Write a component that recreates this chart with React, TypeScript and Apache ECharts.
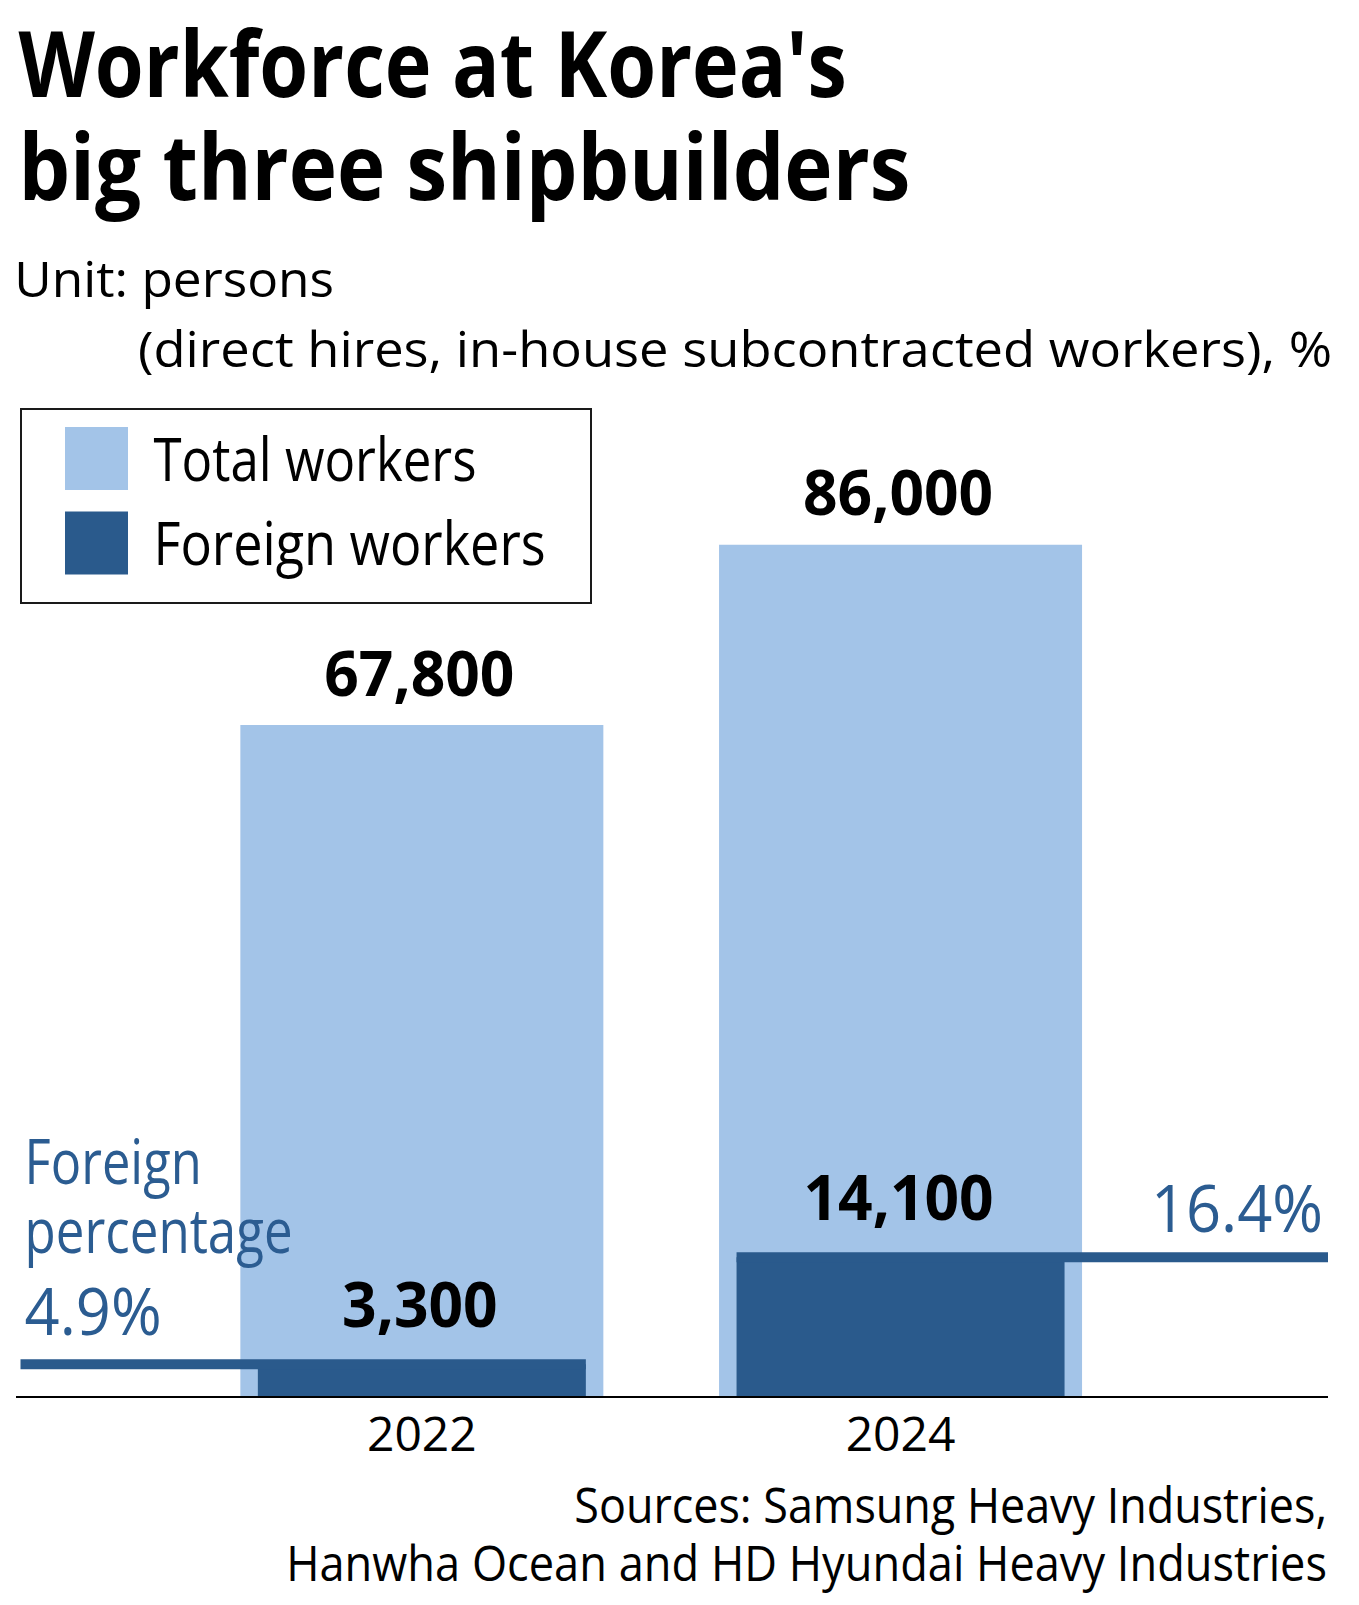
import React, { useEffect, useRef } from "react";
import * as echarts from "echarts";

// ---------- data ----------
const categories = ["2022", "2024"];
const totalWorkers = [67800, 86000];
const foreignWorkers = [3300, 14100];
const foreignPct = [4.9, 16.4];
const seriesNames = ["Total workers", "Foreign workers"];
const titleLines = ["Workforce at Korea's", "big three shipbuilders"];
const unitLines = ["Unit: persons", "(direct hires, in-house subcontracted workers), %"];
const annotationLines = ["Foreign", "percentage"];
const sourceLines = [
  "Sources: Samsung Heavy Industries,",
  "Hanwha Ocean and HD Hyundai Heavy Industries",
];

// ---------- style ----------
const FONT = '"Open Sans", "Noto Sans", sans-serif';
const LIGHT = "#A3C4E8";
const DARK = "#2A5A8C";
const PCT = "#2B5C91";
const CENTRAL = 0.388; // Open Sans: central baseline above alphabetic (em)
const TOTAL_W = 363;
const FOREIGN_W = 328;
const W = 1359;
const H = 1605;

let measureCtx: CanvasRenderingContext2D | null = null;
function measure(text: string, weight: string, size: number): number {
  if (!measureCtx) measureCtx = document.createElement("canvas").getContext("2d");
  if (!measureCtx) return 1;
  measureCtx.font = `${weight} ${size}px ${FONT}`;
  return measureCtx.measureText(text).width || 1;
}

type TxtOpts = {
  x: number;
  baseline: number;
  size: number;
  weight?: string;
  width?: number;
  scale?: number;
  align?: string;
  fill?: string;
};
function txt(text: string, o: TxtOpts): any {
  const weight = o.weight || "normal";
  const align = o.align || "left";
  const sx = o.width ? o.width / measure(text, weight, o.size) : o.scale || 1;
  return {
    type: "text",
    x: o.x,
    y: o.baseline - CENTRAL * o.size,
    scaleX: sx,
    z: 50,
    silent: true,
    style: {
      text,
      fill: o.fill || "#000",
      fontSize: o.size,
      fontFamily: FONT,
      fontWeight: weight,
      align,
      textAlign: align,
      verticalAlign: "middle",
      textVerticalAlign: "middle",
    },
  };
}

const fmt = (v: number) => v.toLocaleString("en-US");

export default function App() {
  const ref = useRef<HTMLDivElement>(null);

  useEffect(() => {
    if (!ref.current) return;
    const chart = echarts.init(ref.current, null, { renderer: "svg" });

    const renderItem = (params: any, api: any) => {
      const i = api.value(0);
      const total = api.value(1);
      const foreign = api.value(2);
      const pct = api.value(3);
      const pTotal = api.coord([i, total]);
      const pForeign = api.coord([i, foreign]);
      const cx = pTotal[0];
      const yTotal = pTotal[1];
      const yFor = pForeign[1];
      const half = FOREIGN_W / 2;
      const leftSide = i === 0;
      const x0 = leftSide ? 20.5 : cx - half;
      const x1 = leftSide ? cx + half : 1328;
      return {
        type: "group",
        children: [
          {
            type: "rect",
            shape: { x: x0, y: yFor - 5, width: x1 - x0, height: 10 },
            style: { fill: DARK },
          },
          txt(fmt(total), {
            x: cx - 2.5,
            baseline: yTotal - 29.6,
            size: 63,
            weight: "bold",
            scale: 0.96,
            align: "center",
          }),
          txt(fmt(foreign), {
            x: cx - 2,
            baseline: yFor - 37,
            size: 63,
            weight: "bold",
            scale: 0.96,
            align: "center",
          }),
          txt(`${pct}%`, {
            x: leftSide ? 24.6 : 1323,
            baseline: leftSide ? yFor - 29 : yFor - 25,
            size: 66,
            scale: 0.93,
            align: leftSide ? "left" : "right",
            fill: PCT,
          }),
        ],
      };
    };

    const graphic: any[] = [
      txt(titleLines[0], { x: 18.4, baseline: 97.2, size: 91, weight: "bold", width: 829 }),
      txt(titleLines[1], { x: 18.4, baseline: 199.6, size: 91, weight: "bold", width: 892 }),
      txt(unitLines[0], { x: 14.3, baseline: 296.8, size: 50, width: 320 }),
      txt(unitLines[1], { x: 138, baseline: 366.4, size: 50, width: 1194.5 }),
      // legend
      {
        type: "rect",
        silent: true,
        z: 40,
        shape: { x: 21, y: 409, width: 570, height: 194 },
        style: { fill: "#fff", stroke: "#1a1a1a", lineWidth: 2 },
      },
      {
        type: "rect",
        silent: true,
        z: 45,
        shape: { x: 65, y: 427, width: 63, height: 63 },
        style: { fill: LIGHT },
      },
      {
        type: "rect",
        silent: true,
        z: 45,
        shape: { x: 65, y: 511.5, width: 63, height: 63 },
        style: { fill: DARK },
      },
      txt(seriesNames[0], { x: 153.5, baseline: 481, size: 60, width: 323 }),
      txt(seriesNames[1], { x: 153.5, baseline: 565, size: 60, width: 392 }),
      // annotation
      txt(annotationLines[0], { x: 24.6, baseline: 1184, size: 63, width: 177, fill: PCT }),
      txt(annotationLines[1], { x: 24.6, baseline: 1253.7, size: 63, width: 268, fill: PCT }),
      // baseline
      {
        type: "line",
        silent: true,
        z: 50,
        shape: { x1: 16, y1: 1397, x2: 1328, y2: 1397 },
        style: { stroke: "#000", lineWidth: 2 },
      },
      // sources
      txt(sourceLines[0], { x: 1327, baseline: 1523, size: 50, width: 753, align: "right" }),
      txt(sourceLines[1], { x: 1327, baseline: 1581, size: 50, width: 1040.5, align: "right" }),
    ];

    const option: any = {
      animation: false,
      backgroundColor: "#fff",
      grid: { left: 182.5, right: 219.1, top: 406, bottom: 208 },
      xAxis: [
        {
          type: "category",
          data: categories,
          axisLine: { show: false },
          axisTick: { show: false },
          splitLine: { show: false },
          axisLabel: {
            fontSize: 48,
            fontFamily: FONT,
            color: "#000",
            margin: 11,
          },
        },
        { type: "category", data: categories, show: false },
      ],
      yAxis: { type: "value", min: 0, max: 100000, show: false },
      series: [
        {
          name: seriesNames[0],
          type: "bar",
          xAxisIndex: 0,
          data: totalWorkers,
          barWidth: TOTAL_W,
          itemStyle: { color: LIGHT },
          silent: true,
        },
        {
          name: seriesNames[1],
          type: "bar",
          xAxisIndex: 1,
          data: foreignWorkers,
          barWidth: FOREIGN_W,
          itemStyle: { color: DARK },
          silent: true,
        },
        {
          type: "custom",
          xAxisIndex: 0,
          yAxisIndex: 0,
          clip: false,
          silent: true,
          z: 3,
          data: categories.map((_, i) => [i, totalWorkers[i], foreignWorkers[i], foreignPct[i]]),
          renderItem,
        },
      ],
      graphic,
    };

    chart.setOption(option);
    return () => chart.dispose();
  }, []);

  return (
    <div
      ref={ref}
      style={{ position: "absolute", left: 0, top: 0, width: W, height: H, background: "#fff" }}
    />
  );
}
